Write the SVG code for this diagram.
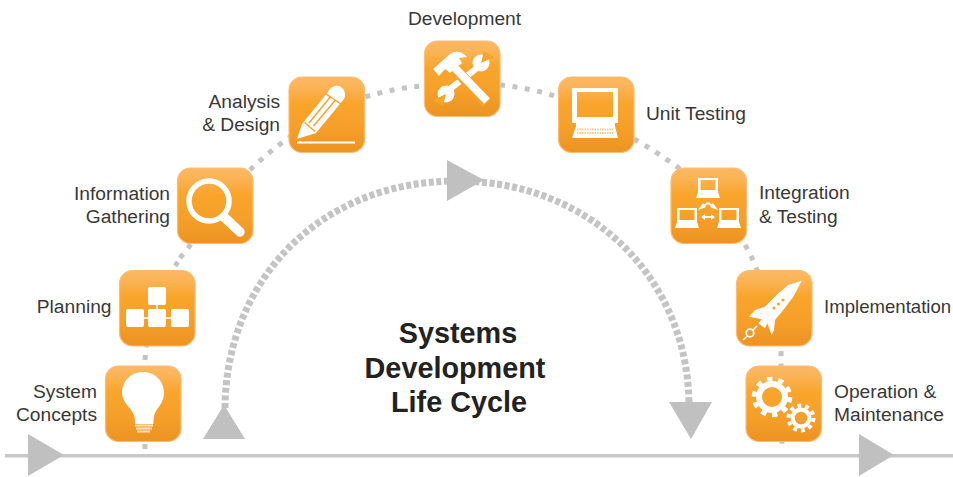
<svg xmlns="http://www.w3.org/2000/svg" width="953" height="477" viewBox="0 0 953 477">
<style>
.lb{font-family:"Liberation Sans",Arial,sans-serif;font-size:19.2px;fill:#383838}
.e{text-anchor:end}
.t{font-family:"Liberation Sans",Arial,sans-serif;font-size:28.8px;font-weight:bold;fill:#222;text-anchor:middle}
.w{fill:#fff}
.s{fill:none;stroke:#fff;stroke-linecap:butt}
.o{fill:#f6a42c}
.g{fill:#c0c0c0}
</style>
<defs>
<linearGradient id="og" x1="0" y1="0" x2="0" y2="1">
<stop offset="0" stop-color="#fbb865"/><stop offset="0.14" stop-color="#fbb355"/><stop offset="0.35" stop-color="#f9a52b"/><stop offset="0.65" stop-color="#f6a02a"/><stop offset="1" stop-color="#ec9322"/>
</linearGradient>
<symbol id="box" width="78" height="78" viewBox="0 0 78 78" overflow="visible">
<rect x="1" y="1" width="75.500" height="75.500" rx="13" fill="url(#og)" stroke="#fbbd73" stroke-width="1.200"/>
</symbol>
</defs>
<rect width="953" height="477" fill="#fff"/>
<g id="connectors">
<path d="M145 449V365M145 360C148 318 160 285 178 262M180 258L250 170C280 140 330 108 365 97C385 91 405 87 424 86M500 85C520 87 540 91 558 97M634 139C650 148 665 158 680 169M745 245C758 265 775 320 781 350L782 450" fill="none" stroke="#c4c4c4" stroke-width="5" stroke-dasharray="5 7.500"/>
<path d="M225 408C226 280 320 181 457 181C592 181 688 280 689 404" fill="none" stroke="#c4c4c4" stroke-width="7" stroke-dasharray="5 2.600"/>
<rect x="5" y="454" width="948" height="3.500" fill="#c8c8c8"/>
<polygon class="g" points="28,434 28,476 64,455"/>
<polygon class="g" points="859,434 859,476 894,455"/>
<polygon class="g" points="203,439 245,439 224,405"/>
<polygon class="g" points="447,160 447,201 484,180"/>
<polygon class="g" points="669,402 712,402 691,439"/>
</g>
<g id="system-concepts">
<use href="#box" x="104.500" y="365"/>
<path class="w" d="M143 372C155 372 164 381 164 393C164 402 158 407 155 413C153.500 417 153.500 420 153.500 424H135C135 420 135 417 133 413C130 407 122 402 122 393C122 381 131 372 143 372Z"/>
<path d="M135 425.500H153M136 428.500H152M137 431.500H150" stroke="#fde3c0" stroke-width="2" fill="none"/>
<text class="lb e" x="97" y="398">System</text><text class="lb e" x="97" y="421">Concepts</text>
</g>
<g id="planning">
<use href="#box" x="118.500" y="269.500"/>
<path d="M157 300V318M140 318H180" stroke="#fff" stroke-width="1.500"/>
<g class="w"><rect x="148" y="287" width="18" height="18" rx="2"/><rect x="126" y="309" width="18" height="18" rx="2"/><rect x="148" y="309" width="18" height="18" rx="2"/><rect x="171" y="309" width="18" height="18" rx="2"/></g>
<text class="lb e" x="111.500" y="313">Planning</text>
</g>
<g id="information-gathering">
<use href="#box" x="176.500" y="167"/>
<circle cx="209" cy="201" r="20" class="s" stroke-width="5.500"/>
<path d="M224 217L240 232" class="s" stroke-width="9.500" style="stroke-linecap:round"/>
<text class="lb e" x="170" y="200">Information</text><text class="lb e" x="170" y="223">Gathering</text>
</g>
<g id="analysis-design">
<use href="#box" x="288" y="76"/>
<path class="w" d="M297 139L302 124L328 92C330 87 337 84 341 87C345 90 346 95 344 99L316 133ZM297 141.500H355V143.500H297Z"/>
<path d="M304.500 122.500L315 131.500M326 94L341 104M309 123L331 96M313.500 126L335.500 100" stroke="#f7a42c" stroke-width="1.500" fill="none"/>
<text class="lb e" x="280" y="108">Analysis</text><text class="lb e" x="280" y="131">&amp; Design</text>
</g>
<g id="development">
<use href="#box" x="423.500" y="40"/>
<path class="s" d="M481 65L446 92" stroke-width="6"/>
<circle cx="481" cy="63" r="8.500" class="w"/><circle cx="446" cy="94" r="8.500" class="w"/>
<path class="o" d="M481 63L484 51L494 57ZM446 94L443 106L433 100Z"/>
<path d="M487 103L455 69" fill="none" stroke="#f6a42c" stroke-width="11"/>
<path class="s" d="M455 68L487 101" stroke-width="8"/>
<path class="w" d="M433 69L450 54C456 50 463 52 467 57L459 58L462 63L450 73L445 69L439 76Z"/>
<text class="lb" x="408" y="25">Development</text>
</g>
<g id="unit-testing">
<use href="#box" x="557.500" y="76"/>
<path class="w" fill-rule="evenodd" d="M572 88H618V123H615V126L618 138H572L576 126V123H572ZM577 92V117H613V92Z"/>
<path d="M577 129.500H613M577 133H613" stroke="#fbc98c" stroke-width="1.800" stroke-dasharray="1.500 1" fill="none"/>
<text class="lb" x="646" y="120">Unit Testing</text>
</g>
<g id="integration-testing">
<use href="#box" x="670" y="167"/>
<g class="w">
<path fill-rule="evenodd" d="M698 178H718V192L720 198H696L698 192ZM700.500 180V190H715.500V180Z"/>
<path fill-rule="evenodd" d="M677 208H697V222L699 228H675L677 222ZM679.500 210V220H694.500V210Z"/>
<path fill-rule="evenodd" d="M719 208H739V222L741 228H717L719 222ZM721.500 210V220H736.500V210Z"/>
<path d="M698 210L703 203L706 207ZM718 210L713 203L710 207ZM701 217L705 214V220ZM715 217L711 214V220Z"/>
</g>
<path class="s" d="M701 208L707 203.500H709L715 208M703 217H713" stroke-width="2"/>
<text class="lb" x="759" y="199">Integration</text><text class="lb" x="759" y="223">&amp; Testing</text>
</g>
<g id="implementation">
<use href="#box" x="735.500" y="269.500"/>
<path class="w" d="M801.700 280.700L788.300 285L778.300 293.300L765 306.700L755 310L749 316.700L761.700 319.300L758.300 323.300L765 328.300L767.300 323.300L771.700 335L774 330L775 320L783.300 310L793.300 296.700Z"/>
<circle cx="783" cy="300" r="1.600" class="o"/><circle cx="778.500" cy="304" r="1.600" class="o"/><circle cx="774" cy="308" r="1.600" class="o"/>
<circle cx="750" cy="333" r="3.800" class="s" stroke-width="1.800"/>
<path class="s" d="M743 340L747.500 336M753 330L757 326" stroke-width="1.500"/>
<text class="lb" x="824" y="313" style="font-size:18.6px">Implementation</text>
</g>
<g id="operation-maintenance">
<use href="#box" x="745" y="365"/>
<circle cx="772" cy="397" r="13" class="s" stroke-width="6"/>
<circle cx="772" cy="397" r="18" class="s" stroke-width="4.500" stroke-dasharray="5.500 5.810"/>
<circle cx="801" cy="418" r="8.400" class="s" stroke-width="4.200"/>
<circle cx="801" cy="418" r="12.500" class="s" stroke-width="4" stroke-dasharray="3.900 3.950"/>
<text class="lb" x="834" y="398">Operation &amp;</text><text class="lb" x="834" y="421">Maintenance</text>
</g>
<g id="title">
<text class="t" x="458" y="343">Systems</text>
<text class="t" x="455" y="378">Development</text>
<text class="t" x="459" y="412">Life Cycle</text>
</g>
</svg>
